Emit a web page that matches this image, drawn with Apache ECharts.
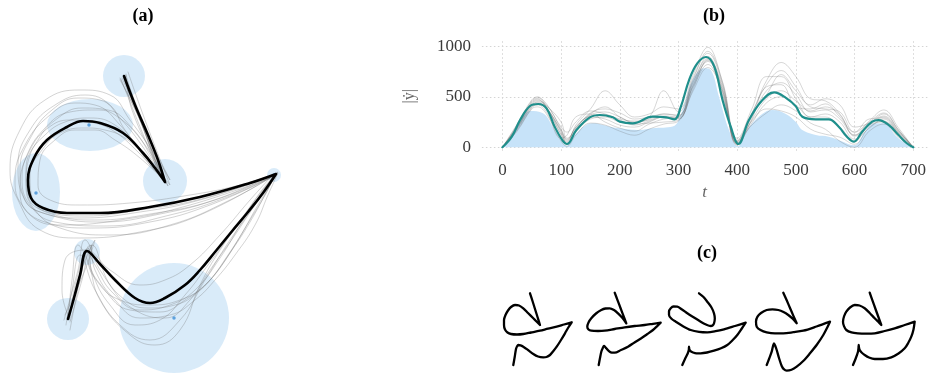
<!DOCTYPE html>
<html><head><meta charset="utf-8">
<script src="https://cdn.jsdelivr.net/npm/echarts@6/dist/echarts.min.js"></script>
<style>html,body{margin:0;padding:0;background:#fff}#c{width:929px;height:374px}</style>
</head><body><div id="c"></div>
<script>
// ---------- Panel (a): latent trajectory ----------
const aMain = [[124,76],[135,105],[148,135],[158,160],[165,182],[165,182],[155,168],[143,153],[123,133],[100,123],[83,121],[67,127],[47,140],[34,158],[28,180],[31,198],[43,208],[67,213],[100,213],[150,207],[200,197],[250,183],[276,174],[276,174],[263,193],[248,212],[233,230],[215,252],[200,270],[185,285],[165,298],[150,303],[135,298],[115,280],[100,264],[87,251],[87,251],[80,275],[74,298],[68,319]];
const aSample1 = [[120,80],[140,120],[160,175],[150,165],[120,125],[95,105],[75,103],[50,115],[25,145],[15,180],[22,205],[45,222],[90,228],[150,222],[210,205],[274,176],[255,205],[230,240],[205,280],[180,320],[150,340],[120,325],[95,290],[80,255],[72,290],[66,325]];
const aSample2 = [[128,72],[145,120],[170,185],[150,160],[125,130],[110,105],[85,95],[55,105],[30,130],[18,165],[25,200],[50,215],[100,222],[160,214],[220,198],[278,172],[258,200],[235,235],[210,270],[190,300],[165,318],[135,310],[110,285],[92,245],[82,280],[70,322]];
const aSample3 = [[122,78],[138,115],[162,178],[140,150],[115,125],[90,118],[65,122],[45,135],[30,155],[26,185],[35,210],[60,228],[110,235],[170,225],[230,200],[275,175],[265,195],[250,220],[228,255],[205,285],[180,300],[150,305],[120,300],[100,285],[88,258],[95,240],[85,270],[65,315]];
const aSample4 = [[126,74],[132,110],[160,170],[168,186],[145,145],[115,115],[95,110],[70,112],[45,128],[25,160],[20,190],[30,215],[60,225],[120,220],[190,205],[270,178],[250,200],[220,235],[190,265],[165,280],[140,285],[110,270],[85,250],[65,260],[62,290],[70,320]];
const aSample5 = [[120,78],[145,130],[170,180],[155,155],[130,120],[110,95],[80,90],[45,100],[20,130],[10,170],[18,200],[40,230],[80,238],[140,232],[200,215],[276,174],[262,190],[245,215],[220,250],[200,285],[180,330],[155,345],[130,335],[100,300],[88,262],[78,245],[72,280],[68,318]];
const aSample6 = [[125,76],[150,140],[166,182],[140,158],[115,140],[95,130],[75,130],[55,140],[40,160],[38,185],[50,200],[80,205],[130,203],[190,195],[240,185],[278,173],[268,195],[255,225],[235,255],[215,280],[195,300],[170,315],[140,318],[115,300],[95,270],[90,245],[80,280],[70,330]];
const aSample7 = [[123,77],[142,125],[163,180],[145,150],[120,118],[100,100],[78,98],[52,110],[32,135],[20,170],[24,198],[40,212],[80,218],[140,212],[200,200],[275,175],[262,192],[242,222],[220,258],[195,290],[170,305],[140,310],[112,292],[95,265],[86,250],[80,280],[67,318]];
const aSample8 = [[124,76],[137,110],[158,172],[148,160],[128,140],[105,130],[85,128],[62,132],[42,150],[30,175],[33,200],[55,215],[95,220],[150,214],[215,200],[277,174],[258,205],[238,240],[218,270],[198,292],[175,305],[148,308],[125,300],[100,270],[85,240],[78,270],[64,320]];
const aSample9 = [[126,75],[140,118],[166,184],[152,158],[132,128],[108,110],[82,108],[58,118],[38,140],[26,170],[28,196],[48,212],[85,216],[140,210],[205,198],[276,174],[266,193],[250,222],[232,250],[210,280],[185,300],[160,312],[130,310],[105,290],[90,260],[92,245],[78,280],[70,318]];
const aSample10 = [[121,79],[134,112],[161,178],[138,152],[112,130],[90,122],[70,120],[48,128],[30,150],[22,178],[30,205],[55,222],[105,226],[170,215],[230,196],[275,175],[255,200],[232,232],[208,265],[185,295],[160,320],[135,325],[110,305],[92,272],[88,248],[76,282],[69,320]];
// uncertainty regions: centre x, centre y, width, height
const aRegions = [[124,76,42,42],[90,125,86,52],[165,181,44,44],[36,192,48,78],[274,175,14,14],[87,252,26,26],[68,319,42,42],[174,318,110,110]];
const aCentres = [[89,125],[36,193],[174,318],[274,175]];

// ---------- Panel (b): speed profile ----------
const tMain = [0,16,30,47,61,75,89,102,110,126,149,166,188,200,222,256,279,293,304,318,332,347,361,375,389,402,420,443,463,483,500,511,534,556,573,587,599,613,630,641,658,675,689,700];
const vMain = [0,105,270,409,429,386,204,72,33,171,297,320,297,254,237,303,297,277,402,666,831,894,798,468,204,33,270,468,544,490,405,303,277,277,204,105,56,155,254,270,221,122,40,0];
const tBand = [0,16,30,47,69,87,102,110,119,154,183,200,234,256,290,307,324,344,355,369,386,401,415,437,460,483,500,511,534,556,580,599,618,635,652,669,689,700];
const vBand = [0,95,250,360,336,190,50,15,100,237,204,188,171,188,205,369,666,782,765,501,171,10,155,303,369,330,250,171,122,105,56,20,155,238,238,122,30,0];
const tSample = [0,25,50,60,75,100,110,125,150,175,200,225,250,275,300,325,350,375,400,425,450,475,500,525,550,575,600,625,650,675,700];
const vSample1 = [0,230,470,500,400,120,50,220,380,560,420,300,330,400,380,720,990,640,70,330,660,840,700,480,460,330,120,260,370,190,0];
const vSample2 = [0,180,400,420,350,90,120,300,330,250,190,160,230,280,300,600,820,520,40,260,380,360,300,180,130,100,30,200,260,110,0];
const vSample3 = [0,200,430,460,420,200,150,250,360,330,280,260,300,560,350,650,900,560,20,280,600,620,400,380,430,300,150,280,290,140,0];
const vSample4 = [0,160,380,400,330,60,10,120,240,220,160,120,180,230,260,560,790,560,60,220,340,420,360,240,180,60,0,160,230,100,0];
const vSample5 = [0,210,450,480,390,160,30,180,340,380,340,280,300,330,310,690,930,620,30,320,520,720,560,420,480,420,200,240,330,170,0];
const vSample6 = [0,190,410,450,410,250,90,160,280,300,250,230,240,250,270,580,870,500,90,380,700,700,480,300,300,200,60,220,250,150,0];
const vSample7 = [0,220,460,490,430,180,70,200,330,400,300,250,270,310,300,640,880,600,50,300,560,640,520,350,370,280,120,230,310,160,0];
const vSample8 = [0,170,390,430,380,130,40,150,300,280,220,200,250,300,280,620,850,540,30,240,440,500,420,300,330,250,80,190,280,130,0];
const vSample9 = [0,200,440,470,400,150,60,200,320,350,300,240,280,330,320,670,950,650,60,340,620,760,600,400,380,350,150,250,340,170,0];
const vSample10 = [0,190,420,440,390,170,80,190,310,320,270,220,260,300,290,610,860,580,40,270,480,560,460,360,400,320,110,220,300,150,0];
const xTicks = [0,100,200,300,400,500,600,700];
const yTicks = [0,500,1000];

// ---------- Panel (c): generated trajectories ----------
const c1 = [[40,13.3],[42.5,21],[45,29],[47.5,37],[50,45],[50,45],[46.5,41.5],[43.3,38.3],[38,33],[33.3,28.3],[29,25.5],[25,25],[21,27],[18,30.5],[15.5,35],[14,40],[14,45],[15,49.5],[17.5,52.5],[21,54],[27,54.5],[33.3,54],[41,52.5],[50,50.7],[58,48.7],[66.7,46.7],[74,44.5],[81.7,42.3],[81.7,42.3],[78,48],[75,53.3],[71,60],[66.7,66.7],[63,71.5],[60,75],[56.5,77],[53.3,77.3],[48,76.5],[43.3,74],[38,70],[33.3,66.7],[30.5,65.3],[28.3,65],[28.3,65],[27,66.5],[26,69],[24.7,77],[23.3,85]];
const c2 = [[36.7,12.7],[39.6,20.3],[42.5,28],[45.4,35.6],[48.3,43.3],[48.3,43.3],[44.5,38],[40,33.3],[36,30],[31.7,28.3],[27.5,28.5],[23.3,30],[18,33.5],[13.3,38.3],[10.5,42.5],[9.3,46.7],[10.5,49.5],[13.3,50.7],[20,51],[26.7,50.7],[36.7,49],[46.7,47.3],[56.7,46],[66.7,45],[75,43.8],[82.7,42.7],[82.7,42.7],[79,46.3],[75,50],[69,54.3],[63.3,58.3],[56.5,62.5],[50,66.7],[43,70],[36.7,72.7],[33.8,72.6],[31.7,71.7],[29.8,70],[28.3,68.3],[27,66.7],[26,66],[26,66],[24.8,68],[23.3,71.7],[22,78],[20.7,85]];
const c3 = [[35,13.3],[39.5,17],[43.3,21.7],[47.5,27.5],[50,33.3],[50.8,38.5],[50,43.3],[48.5,45.5],[46.7,46],[42,44.5],[36.7,41.7],[30,37.5],[23.3,33.3],[18,29.5],[13.3,26.7],[9.5,26.5],[6.7,28.3],[5,31.5],[5,35],[7.5,38.8],[11.7,41.7],[19,46.2],[26.7,50],[35,51.8],[43.3,52.3],[51.5,51.2],[60,49.3],[71,46],[81.7,42.7],[81.7,42.7],[77.5,49],[73.3,55],[68.5,60.3],[63.3,65],[57,68.3],[50,70.7],[43,72.5],[36.7,73.3],[32.5,73.3],[29,72.5],[26.5,71.2],[25.3,69],[25,66.7],[25,66.7],[24.8,70],[23.7,73.5],[21,79],[18.3,85]];
const c4 = [[33.3,12.7],[36.7,20.3],[40,28],[43.3,35.6],[46.7,43.3],[46.7,43.3],[42.7,38.8],[38.3,35],[33.5,32],[28.3,30],[22.5,29.3],[16.7,30],[11,33],[7.5,36.7],[6,41.5],[6.7,46.7],[10.5,50],[16.7,52.3],[25,53.3],[33.3,53.3],[43.3,52.2],[53.3,50.7],[66.5,46.5],[80,41.7],[80,41.7],[77,48],[73.3,55],[67,64.5],[60,73.3],[53.5,80.8],[46.7,86.7],[41.5,89.8],[36.7,90.7],[33.8,89.2],[31.7,86],[29,78],[26.7,70],[25.3,66],[24,63.3],[24,63.3],[22.8,67],[21.7,71.7],[19.2,78.5],[16.7,85]];
const c5 = [[31.7,12.7],[34.6,20.8],[37.5,29],[40.4,37],[43.3,45],[43.3,45],[40,41.5],[36.7,38.3],[31.7,33],[26.7,28.3],[21.5,25.5],[16.7,25],[12,27.5],[8.3,31.7],[6,36.5],[5,41.7],[6,46.2],[8.3,50],[13.5,52.4],[20,53.3],[28,53.6],[36.7,53.3],[46.7,51],[56.7,48.3],[66.7,45],[76.7,41.7],[76.7,41.7],[75.5,49.5],[73.3,56.7],[70.3,62.8],[66.7,68.3],[60.5,73.5],[53.3,77.3],[45,79],[36.7,79],[31,77.5],[26.7,75],[23.6,72.5],[21.7,70],[21,67.5],[20.7,65],[20.7,65],[20.5,68],[20,71.7],[17.7,78.5],[15,85]];

const FONT = '"Liberation Serif", "DejaVu Serif", serif';
const chart = echarts.init(document.getElementById('c'), null, {renderer:'canvas'});
const zip = (t, v) => t.map((x, i) => [x, v[i]]);

function curve(data, gi, color, width, z, smooth) {
  return {type:'line', xAxisIndex:gi, yAxisIndex:gi, data:data, smooth:smooth, symbol:'none',
    lineStyle:{color:color, width:width, cap:'round', join:'round'}, z:z, silent:true, animation:false};
}
function hiddenAxes(gi, xmax, ymax) {
  return {
    x:{gridIndex:gi, type:'value', min:0, max:xmax, show:false},
    y:{gridIndex:gi, type:'value', min:0, max:ymax, inverse:true, show:false}
  };
}

const grids = [
  {left:0, top:0, width:300, height:374},
  {left:481.9, top:41.25, width:447.1, height:110.1},
  {left:490, top:280, width:90, height:94},
  {left:578, top:280, width:90, height:94},
  {left:664, top:280, width:90, height:94},
  {left:750, top:280, width:90, height:94},
  {left:838, top:280, width:90, height:94}
];
const xAxes = [], yAxes = [];
const ha = hiddenAxes(0, 300, 374); xAxes.push(ha.x); yAxes.push(ha.y);
const grid = {show:true, lineStyle:{color:'#d4d4d4', type:[1.5,2.5], width:1}};
const tickLabel = {fontSize:17, color:'#3a3a3a', fontFamily:FONT, margin:11, formatter:(v) => String(v)};
xAxes.push({gridIndex:1, type:'value', min:-35, max:724,
  axisLine:{show:false}, axisTick:{show:false, customValues:xTicks},
  axisLabel:Object.assign({customValues:xTicks}, tickLabel),
  splitLine:grid,
  name:'t', nameLocation:'middle', nameGap:33,
  nameTextStyle:{fontStyle:'italic', fontSize:17, color:'#666', fontFamily:FONT}});
yAxes.push({gridIndex:1, type:'value', min:-40, max:1050,
  axisLine:{show:false}, axisTick:{show:false, customValues:yTicks},
  axisLabel:Object.assign({customValues:yTicks}, tickLabel),
  splitLine:grid,
  name:'|ẏ|', nameLocation:'middle', nameGap:64, nameRotate:90,
  nameTextStyle:{fontSize:16, color:'#666', fontFamily:FONT}});
for (let k = 2; k <= 6; k++) { const h = hiddenAxes(k, 90, 94); xAxes.push(h.x); yAxes.push(h.y); }

const series = [];
// panel a regions
series.push({type:'scatter', xAxisIndex:0, yAxisIndex:0, data:aRegions.map(r => [r[0], r[1], r[2], r[3]]),
  symbol:'circle', symbolSize:(v) => [v[2], v[3]], itemStyle:{color:'#cfe6f8'}, z:1, silent:true, animation:false});
const graySamplesA = [aSample1, aSample2, aSample3, aSample4, aSample5, aSample6, aSample7, aSample8, aSample9, aSample10];
graySamplesA.forEach(s => series.push(curve(s, 0, 'rgba(110,110,110,0.38)', 0.8, 2, 0.45)));
series.push({type:'scatter', xAxisIndex:0, yAxisIndex:0, data:aCentres, symbolSize:3.5, itemStyle:{color:'#3f8fd6'}, z:3, silent:true, animation:false});
series.push(curve(aMain, 0, '#000', 2.6, 4, 0.4));

// panel b
series.push({type:'line', xAxisIndex:1, yAxisIndex:1, data:zip(tBand, vBand), smooth:0.4, symbol:'none',
  lineStyle:{width:0}, areaStyle:{color:'#c7e3f9', opacity:1}, z:1, silent:true, animation:false});
[vSample1, vSample2, vSample3, vSample4, vSample5, vSample6, vSample7, vSample8, vSample9, vSample10].forEach(v =>
  series.push(curve(zip(tSample, v), 1, 'rgba(100,100,100,0.33)', 0.8, 2, 0.4)));
series.push(curve(zip(tMain, vMain), 1, '#1f8f8c', 2.2, 4, 0.4));

// panel c
[c1, c2, c3, c4, c5].forEach((c, i) => series.push(curve(c, i + 2, '#000', 2.3, 4, 0.3)));

const titleStyle = {fill:'#000', font:'bold 18px ' + FONT, textAlign:'center', textVerticalAlign:'middle'};
chart.setOption({
  animation:false,
  textStyle:{fontFamily:FONT},
  grid:grids, xAxis:xAxes, yAxis:yAxes, series:series,
  graphic:[
    {type:'text', x:143, y:16, style:Object.assign({text:'(a)'}, titleStyle)},
    {type:'text', x:714, y:16, style:Object.assign({text:'(b)'}, titleStyle)},
    {type:'text', x:707, y:253, style:Object.assign({text:'(c)'}, titleStyle)}
  ]
});
</script></body></html>
